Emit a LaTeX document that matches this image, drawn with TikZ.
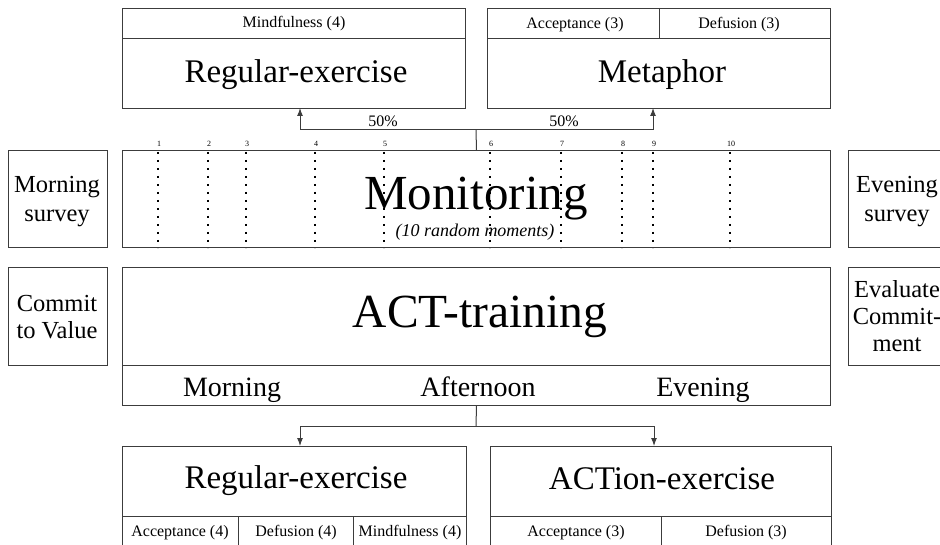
\documentclass[tikz,border=0pt]{standalone}
\usepackage{fontspec}
\setmainfont{Liberation Serif}
\usetikzlibrary{arrows.meta,calc}
\definecolor{linec}{RGB}{60,60,60}
\tikzset{
  box/.style={draw=linec, line width=1pt, inner sep=0pt, anchor=north west},
  sep/.style={draw=linec, line width=1pt},
  arr/.style={draw=linec, line width=1pt, -{Latex[length=8pt,width=6pt]}},
  conn/.style={draw=linec, line width=1pt},
  dots/.style={draw=black, line width=1.6pt, dash pattern=on 1.6pt off 6.4pt},
  txt/.style={inner sep=0pt, anchor=base},
  small/.style={txt, font=\fontsize{16}{18}\selectfont},
  big/.style={txt, font=\fontsize{33}{38}\selectfont},
  huge/.style={txt, font=\fontsize{49}{54}\selectfont},
  side/.style={txt, font=\fontsize{24.5}{28}\selectfont},
  band/.style={txt, font=\fontsize{28}{30}\selectfont},
  tiny/.style={txt, font=\fontsize{8}{9}\selectfont},
}
\begin{document}
\begin{tikzpicture}[x=1pt,y=-1pt]
\useasboundingbox (0,0) rectangle (940,545);
\clip (0,0) rectangle (940,545);
% top boxes
\node[box, minimum width=343pt, minimum height=100pt] (topL) at (122,8) {};
\node[box, minimum width=343pt, minimum height=100pt] (topR) at (487,8) {};
\draw[sep] (122,39) -- (465,39);
\draw[sep] (487,39) -- (830,39);
\draw[sep] (659,8) -- (659,39);
\node[small] (tl1) at (294,28) {Mindfulness (4)};
\node[big] (tl2) at (296,83) {Regular-exercise};
\node[small] (tr1) at (575,29) {Acceptance (3)};
\node[small] (tr2) at (739,29) {Defusion (3)};
\node[big] (tr3) at (662,83) {Metaphor};
% monitoring
\node[box, minimum width=708pt, minimum height=97pt] (mon) at (122,150) {};
\node[box, minimum width=99pt, minimum height=97pt] (ms) at (7.5,150) {};
\node[box, minimum width=99pt, minimum height=97pt] (es) at (847.5,150) {};
\node[side] (mst1) at (57,193) {Morning};
\node[side] (mst2) at (57,222) {survey};
\node[side] (est1) at (897,193) {Evening};
\node[side] (est2) at (897,222) {survey};
\foreach \n/\x in {1/158,2/208,3/246,4/315,5/384,6/490,7/561,8/622,9/653,10/730}{
  \draw[dots] (\x,152) -- (\x,248);
  \node[tiny] (num\n) at (\x+1,147) {\n};
}
\node[huge] (mont) at (476,210) {Monitoring};
\node[txt, font=\fontsize{18}{20}\selectfont\itshape] (rand) at (475,237) {(10 random moments)};
% connector to top
\coordinate (j1) at (476,130);
\coordinate (aL) at (300,108);
\coordinate (aR) at (653,108);
\draw[conn] (mon.north) -- (j1);
\draw[arr] (j1) -| (aL);
\draw[arr] (j1) -| (aR);
\node[small] (p1) at (383,127) {50\%};
\node[small] (p2) at (564,127) {50\%};
% ACT-training
\node[box, minimum width=708pt, minimum height=138pt] (act) at (122,267) {};
\draw[sep] (122,366) -- (830,366);
\node[box, minimum width=99pt, minimum height=98pt] (cv) at (7.5,267) {};
\node[box, minimum width=99pt, minimum height=98pt] (ec) at (847.5,267) {};
\node[side] (cvt1) at (57,312) {Commit};
\node[side] (cvt2) at (57,338) {to Value};
\node[side] (ect1) at (897,298) {Evaluate};
\node[side] (ect2) at (897,325) {Commit-};
\node[side] (ect3) at (897,352) {ment};
\node[huge, font=\fontsize{47.5}{54}\selectfont] (actt) at (480,327) {ACT-training};
\node[band] (mo) at (232,396) {Morning};
\node[band] (af) at (478,396) {Afternoon};
\node[band] (ev) at (703,396) {Evening};
% connector to bottom
\coordinate (j2) at (476,426);
\coordinate (bL) at (300,446);
\coordinate (bR) at (654,446);
\draw[conn] (act.south) -- (j2);
\draw[arr] (j2) -| (bL);
\draw[arr] (j2) -| (bR);
% bottom boxes
\node[box, minimum width=344pt, minimum height=120pt] (botL) at (122,446) {};
\node[box, minimum width=341pt, minimum height=120pt] (botR) at (490,446) {};
\draw[sep] (122,516) -- (466,516);
\draw[sep] (490,516) -- (831,516);
\draw[sep] (238,516) -- (238,566);
\draw[sep] (353,516) -- (353,566);
\draw[sep] (661,516) -- (661,566);
\node[big] (bl1) at (296,488) {Regular-exercise};
\node[big] (br1) at (662,489) {ACTion-exercise};
\node[small] (bl2) at (180,536) {Acceptance (4)};
\node[small] (bl3) at (296,536) {Defusion (4)};
\node[small] (bl4) at (410,536) {Mindfulness (4)};
\node[small] (br2) at (576,536) {Acceptance (3)};
\node[small] (br3) at (746,536) {Defusion (3)};
\end{tikzpicture}
\end{document}
